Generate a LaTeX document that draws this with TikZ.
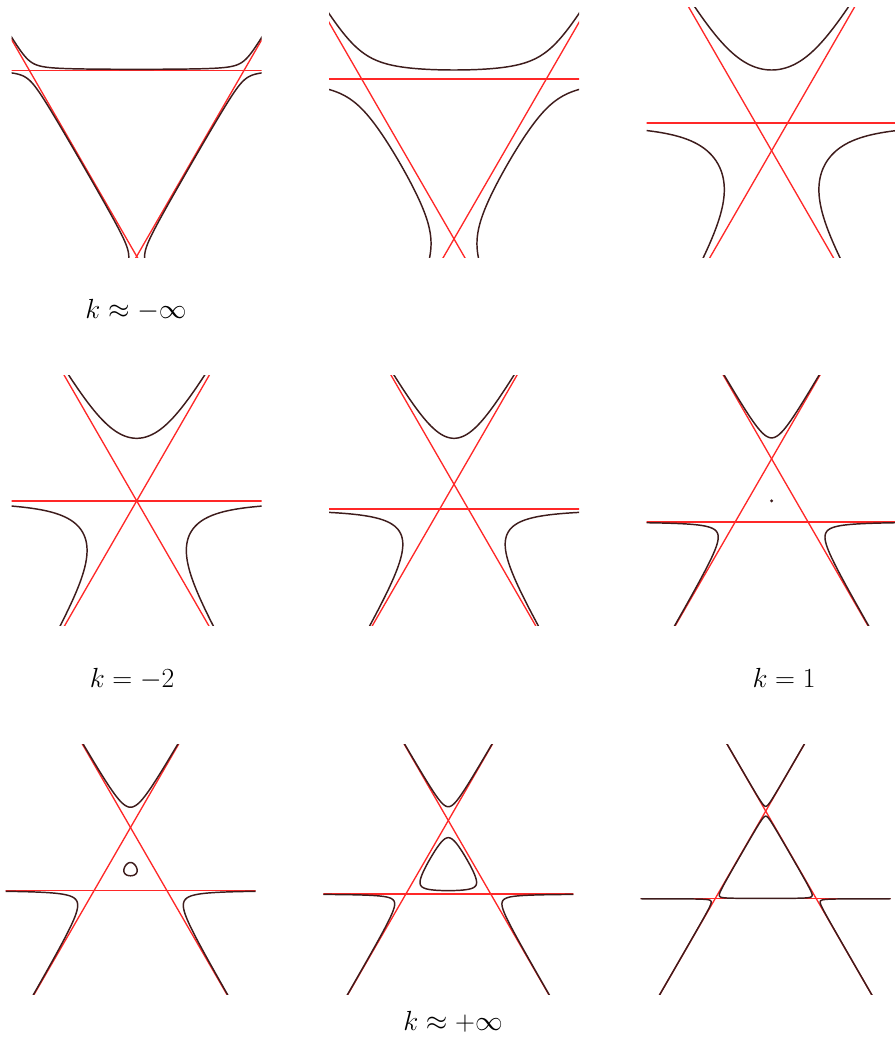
\documentclass[tikz,border=0pt]{standalone}
\definecolor{asym}{RGB}{255,40,40}
\definecolor{cubic}{RGB}{62,28,28}
\tikzset{every picture/.style={line width=0.75pt}}
\tikzset{
  asymline/.style={draw=asym, line width=1pt},
  cubicline/.style={draw=cubic, line width=1.1pt, line join=round},
  klabel/.style={inner sep=0.75pt, font=\fontsize{21}{25}\selectfont},
  declare function={cubx(\u)=sqrt(max(0,4/3*((\dd+\u/2)*(\dd+\u/2)-\kk/(\u-\dd))));}
}
% #1 centre, #2 signed inradius d, #3 apex distance Y (units of 10px), #4 extra
\newcommand{\cubicpanel}[4]{%
  \begin{scope}[shift={#1}]
    \clip (-125,-125) rectangle (125,125);
    \begin{scope}[yscale=-1, scale=10]
      \pgfmathsetmacro{\dd}{#2}
      \pgfmathsetmacro{\kk}{(#3-(#2))*(#2+#3/2)*(#2+#3/2)}
      \foreach \r in {0,120,240}{
        \draw[asymline, rotate=\r] (-20,\dd) -- (20,\dd);
      }
      \foreach \r in {0,120,240}{
        \draw[cubicline, rotate=\r]
          plot[domain=4.5:0, variable=\t, samples=120] ({-cubx(#3+\t*\t)},{#3+\t*\t})
          -- plot[domain=0:4.5, variable=\t, samples=120] ({cubx(#3+\t*\t)},{#3+\t*\t});
      }
      #4
    \end{scope}
  \end{scope}}
% closed oval between y=#1 and y=#2
\newcommand{\cubicoval}[2]{%
  \draw[cubicline]
    plot[domain=0:180, variable=\t, samples=120] ({cubx((#1+#2)/2-(#2-(#1))/2*cos(\t))},{(#1+#2)/2-(#2-(#1))/2*cos(\t)})
    -- plot[domain=180:0, variable=\t, samples=120] ({-cubx((#1+#2)/2-(#2-(#1))/2*cos(\t))},{(#1+#2)/2-(#2-(#1))/2*cos(\t)})
    -- cycle;}

\begin{document}
\begin{tikzpicture}[x=0.75pt,y=0.75pt,yscale=-1,xscale=1]
\useasboundingbox (0,0) rectangle (894,1037);

%Curve Lines [row 1]
\cubicpanel{(136.7,132.3)}{6.2}{6.3}{}
\cubicpanel{(454,132.3)}{5.33}{6.23}{}
\cubicpanel{(771.6,132.3)}{0.92}{6.23}{}
%Curve Lines [row 2]
\cubicpanel{(136.7,500.85)}{0}{6.255}{}
\cubicpanel{(454,500.85)}{-0.83}{6.255}{}
\cubicpanel{(771.6,500.85)}{-2.1}{6.3}{\fill[cubic] (0,0) circle[radius=0.17];}
%Curve Lines [row 3]
\cubicpanel{(130.5,869.5)}{-2.1}{6.23}{\cubicoval{-0.626}{0.696}}
\cubicpanel{(448.3,869.5)}{-2.45}{6.28}{\cubicoval{-2.111}{3.181}}
\cubicpanel{(765.7,869.5)}{-2.92}{6.32}{\cubicoval{-2.892}{5.331}}

% Text Node
\node[klabel] (kminf) at (136,310) {$k\approx-\infty$};
% Text Node
\node[klabel] (kmtwo) at (132,679) {$k=-2$};
% Text Node
\node[klabel] (kone) at (784,678) {$k=1$};
% Text Node
\node[klabel] (kpinf) at (453,1022) {$k\approx+\infty$};

\end{tikzpicture}
\end{document}
